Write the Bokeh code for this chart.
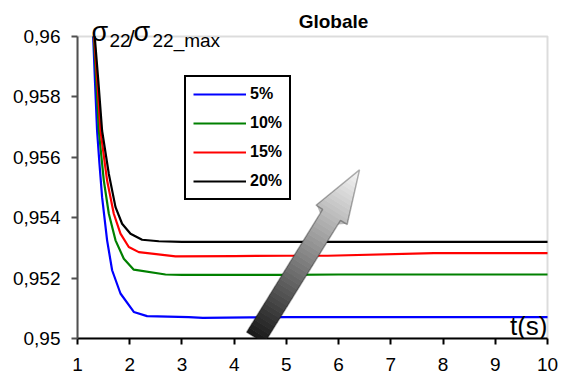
from bokeh.plotting import figure
from bokeh.models import Range1d, FixedTicker, Label, Legend, LegendItem, PolyAnnotation, BoxAnnotation
from bokeh.embed import file_html
from bokeh.resources import INLINE

# ---------------- data ----------------
series_names = ["5%", "10%", "15%", "20%"]
series_colors = ["#0000FF", "#008000", "#FF0000", "#000000"]

t_5 = [1.30, 1.335, 1.375, 1.42, 1.471, 1.567, 1.663, 1.823, 2.078, 2.333, 3.13, 3.4, 4.3, 5, 6, 7, 8, 9, 10]
s_5 = [0.9600, 0.9585, 0.95688, 0.9558, 0.95468, 0.95325, 0.95226, 0.95149, 0.95088, 0.95074,
       0.95071, 0.95068, 0.95070, 0.95071, 0.95071, 0.95071, 0.95071, 0.95071, 0.95071]

t_10 = [1.31, 1.36, 1.408, 1.504, 1.60, 1.728, 1.887, 2.078, 2.685, 3, 4, 5, 6, 7, 8, 9, 10]
s_10 = [0.9600, 0.9585, 0.95688, 0.95523, 0.95413, 0.95325, 0.95264, 0.95228, 0.95212,
        0.95211, 0.95211, 0.95211, 0.95212, 0.95212, 0.95212, 0.95212, 0.95212]

t_15 = [1.32, 1.38, 1.44, 1.567, 1.695, 1.823, 1.982, 2.174, 2.877, 4, 5, 5.79, 7.82, 9, 10]
s_15 = [0.9600, 0.9585, 0.95688, 0.95523, 0.95413, 0.95347, 0.95303, 0.95286, 0.95272,
        0.95273, 0.95274, 0.95274, 0.95283, 0.95283, 0.95283]

t_20 = [1.33, 1.40, 1.471, 1.60, 1.728, 1.854, 2.015, 2.237, 2.557, 3, 4, 5, 6, 7, 8, 9, 10]
s_20 = [0.9600, 0.9585, 0.95688, 0.95545, 0.95435, 0.9538, 0.95347, 0.95327, 0.95322,
        0.9532, 0.9532, 0.9532, 0.9532, 0.9532, 0.9532, 0.9532, 0.9532]

x_ticks = [1, 2, 3, 4, 5, 6, 7, 8, 9, 10]
y_ticks = [0.950, 0.952, 0.954, 0.956, 0.958, 0.960]
y_tick_labels = ["0,95", "0,952", "0,954", "0,956", "0,958", "0,96"]

title_text = "Globale"
x_label = "t(s)"

# ---------------- layout ----------------
X0, X1, Y0, Y1 = 1, 10, 0.95, 0.96
# data-area position in the picture (pixels)
FL, FR, FT, FB = 77, 547, 36, 338
FRAME_TOP, FRAME_RIGHT = 8, 549
W, H = 558, 378

def X(px):
    return X0 + (px - FL) * (X1 - X0) / (FR - FL)

def Y(py):
    return Y1 - (py - FT) * (Y1 - Y0) / (FB - FT)

p = figure(width=W, height=H, output_backend="svg", toolbar_location=None,
           x_range=Range1d(X0, X(FRAME_RIGHT)), y_range=Range1d(Y0, Y(FRAME_TOP)),
           min_border_left=FL, min_border_right=W - FRAME_RIGHT,
           min_border_top=FRAME_TOP, min_border_bottom=H - FB)
p.background_fill_color = "white"
p.border_fill_color = "white"
p.outline_line_color = None
p.xgrid.visible = False
p.ygrid.visible = False

# plot-area border (grey top/right, as in the reference)
p.add_layout(BoxAnnotation(left=X0, right=X1, bottom=Y0, top=Y1, fill_alpha=0,
                           line_color="#8c8c8c", line_width=2, level="underlay"))

FONT = "Liberation Sans"

p.xaxis.ticker = FixedTicker(ticks=x_ticks)
p.yaxis.ticker = FixedTicker(ticks=y_ticks)
p.yaxis.major_label_overrides = {t: l for t, l in zip(y_ticks, y_tick_labels)}
p.xaxis.bounds = (X0, X1)
p.yaxis.bounds = (Y0, Y1)
for ax in (p.xaxis, p.yaxis):
    ax.minor_tick_line_color = None
    ax.major_label_text_font = FONT
    ax.major_label_text_font_size = "19px"
    ax.major_label_text_color = "black"
    ax.major_tick_in = 0
    ax.major_tick_out = 6
    ax.major_tick_line_width = 2

p.xaxis.axis_line_color = "black"
p.xaxis.axis_line_width = 2
p.xaxis.major_tick_line_color = "black"
p.xaxis.major_label_standoff = 13

p.yaxis.axis_line_color = "#505050"
p.yaxis.axis_line_width = 2
p.yaxis.major_tick_line_color = "#505050"
p.yaxis.major_label_standoff = 11

# ---------------- series ----------------
renderers = []
for t, s, c in zip([t_5, t_10, t_15, t_20], [s_5, s_10, s_15, s_20], series_colors):
    r = p.line(t, s, line_color=c, line_width=2.2)
    renderers.append(r)

# ---------------- arrow with grey gradient ----------------
tail = (255.0, 337.2)
tip = (359.0, 169.3)
dx, dy = tip[0] - tail[0], tip[1] - tail[1]
L = (dx * dx + dy * dy) ** 0.5
ux, uy = dx / L, dy / L
vx, vy = -uy, ux  # perpendicular
shaft_hw, head_hw, head_u = 10.5, 18.3, 144.5

def pt(u, v):
    return (tail[0] + u * ux + v * vx, tail[1] + u * uy + v * vy)

def hw(u):
    if u <= head_u:
        return shaft_hw
    return head_hw * (L - u) / (L - head_u)

def grey(u):
    g = int(25 + (248 - 25) * (u / L))
    return "#%02x%02x%02x" % (g, g, g)

N1, N2 = 30, 12
bands = [(head_u * i / N1, head_u * (i + 1) / N1, shaft_hw, shaft_hw) for i in range(N1)]
for i in range(N2):
    a = head_u + (L - head_u) * i / N2
    b = head_u + (L - head_u) * (i + 1) / N2
    bands.append((a, b, hw(a + 1e-9) if i else head_hw, hw(b)))
for a, b, wa, wb in bands:
    b2 = min(b + 0.6, L)
    wb2 = wb if b < head_u else hw(b2) if b2 > head_u else wb
    pts = [pt(a, -wa), pt(b2, -wb2), pt(b2, wb2), pt(a, wa)]
    p.add_layout(PolyAnnotation(xs=[X(q[0]) for q in pts], ys=[Y(q[1]) for q in pts],
                                fill_color=grey((a + b) / 2), fill_alpha=1,
                                line_color=None))
outline = [pt(0, -shaft_hw), pt(head_u, -shaft_hw), pt(head_u, -head_hw), pt(L, 0),
           pt(head_u, head_hw), pt(head_u, shaft_hw), pt(0, shaft_hw)]
p.add_layout(PolyAnnotation(xs=[X(q[0]) for q in outline], ys=[Y(q[1]) for q in outline],
                            fill_alpha=0, line_color="black", line_width=1.5))

# ---------------- legend ----------------
legend = Legend(items=[LegendItem(label=n, renderers=[r]) for n, r in zip(series_names, renderers)],
                location=(184 - FL, FB - 200), margin=0, padding=7, spacing=9,
                glyph_width=53, glyph_height=20, label_height=20, label_width=30,
                label_standoff=4, label_text_font=FONT, label_text_font_size="16px",
                label_text_font_style="bold", label_text_color="black",
                border_line_color="black", border_line_width=2, border_line_alpha=1,
                background_fill_color="white", background_fill_alpha=1)
p.add_layout(legend, "center")

# ---------------- texts ----------------
p.add_layout(Label(x=X(333), y=Y(21), text=title_text, text_font=FONT, text_font_size="19px",
                   text_font_style="bold", text_align="center", text_baseline="middle",
                   text_color="black"))
p.add_layout(Label(x=X(547), y=Y(325), text=x_label, text_font=FONT, text_font_size="26px",
                   text_align="right", text_baseline="middle", text_color="black"))
ylab_parts = [("σ", 91, 31, "27px"), ("22", 109, 40, "19px"), ("/", 128, 38, "22px"),
              ("σ", 133, 31, "27px"), ("22_max", 152, 40, "19px")]
for txt, px, py, fs in ylab_parts:
    p.add_layout(Label(x=X(px), y=Y(py), text=txt, text_font=FONT, text_font_size=fs,
                       text_align="left", text_baseline="middle", text_color="black"))

open("out.html", "w").write(file_html(p, INLINE))
